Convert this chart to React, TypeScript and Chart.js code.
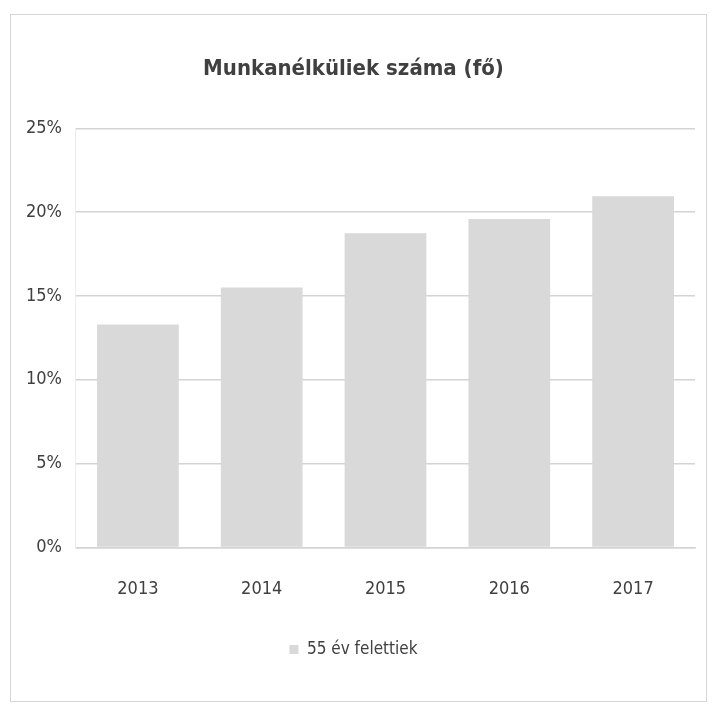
import React, { useEffect, useRef } from "react";
import { Chart, registerables } from "chart.js";

Chart.register(...registerables);

const categories = ["2013", "2014", "2015", "2016", "2017"];
const values = [13.3, 15.5, 18.75, 19.6, 20.95];
const seriesName = "55 év felettiek";
const titleText = "Munkanélküliek száma (fő)";
const yTicks = [0, 5, 10, 15, 20, 25];

const FONT = "'DejaVu Sans Condensed', 'Liberation Sans Narrow', 'Liberation Sans', sans-serif";

export default function App() {
  const ref = useRef<HTMLCanvasElement | null>(null);
  useEffect(() => {
    if (!ref.current) return;
    const chart = new Chart(ref.current, {
      type: "bar",
      data: {
        labels: categories,
        datasets: [
          {
            label: seriesName,
            data: values,
            backgroundColor: "#d9d9d9",
            borderWidth: 0,
            barPercentage: 0.66,
            categoryPercentage: 1,
          },
        ],
      },
      options: {
        animation: false,
        responsive: false,
        maintainAspectRatio: false,
        layout: { padding: { left: 1, right: 11, top: 0, bottom: 33 } },
        plugins: {
          title: {
            display: true,
            text: titleText,
            color: "#404040",
            font: { family: FONT, size: 22, weight: "bold" },
            padding: { top: 41, bottom: 46 },
          },
          legend: {
            display: true,
            position: "bottom",
            labels: {
              color: "#404040",
              font: { family: FONT, size: 17 },
              boxWidth: 9,
              boxHeight: 9,
              padding: 10,
            },
          },
          tooltip: { enabled: false },
        },
        scales: {
          x: {
            grid: { display: false, drawTicks: false },
            border: { display: true, color: "#d4d4d4", width: 1.5 },
            ticks: {
              color: "#404040",
              font: { family: FONT, size: 18 },
              padding: 31,
            },
          },
          y: {
            min: 0,
            max: 25,
            afterBuildTicks: (axis: any) => {
              axis.ticks = yTicks.map((v) => ({ value: v }));
            },
            grid: { color: "#d4d4d4", lineWidth: 1.5, drawTicks: false },
            border: { display: true, color: "#ececec", width: 1 },
            ticks: {
              color: "#404040",
              font: { family: FONT, size: 18 },
              padding: 14,
              callback: (v: any) => v + "%",
            },
          },
        },
      },
    });
    return () => chart.destroy();
  }, []);
  return (
    <div
      style={{
        width: 695,
        height: 686,
        marginTop: 6,
        marginLeft: 2,
        border: "1px solid #d6d6d6",
        background: "#fff",
      }}
    >
      <canvas ref={ref} width={695} height={686} />
    </div>
  );
}
